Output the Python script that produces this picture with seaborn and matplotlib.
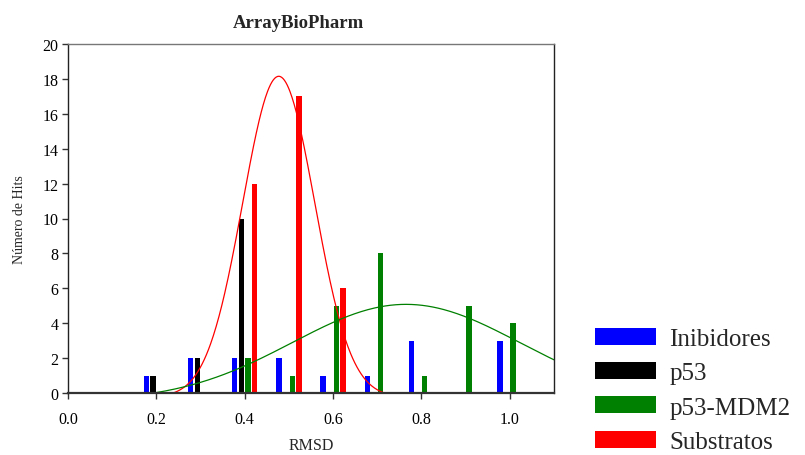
import numpy as np
import pandas as pd
import matplotlib
matplotlib.use('Agg')
import matplotlib.pyplot as plt
import seaborn as sns
from matplotlib.patches import Patch

#######################################################################################################################
# DATA #
#######################################################################################################################

Groups = ['Inibidores', 'p53', 'p53-MDM2', 'Substratos']
Colors = ['#0000FF', '#000000', '#008000', '#FF0000']

RMSD_Inibidores = [0.2, 0.3, 0.4, 0.5, 0.6, 0.7, 0.8, 1.0]
Hits_Inibidores = [1, 2, 2, 2, 1, 1, 3, 3]

RMSD_p53 = [0.2, 0.3, 0.4]
Hits_p53 = [1, 2, 10]

RMSD_p53_MDM2 = [0.4, 0.5, 0.6, 0.7, 0.8, 0.9, 1.0]
Hits_p53_MDM2 = [2, 1, 5, 8, 1, 5, 4]

RMSD_Substratos = [0.4, 0.5, 0.6]
Hits_Substratos = [12, 17, 6]

# fitted gaussian curves: offset, amplitude, centre, width, x range
Fit_Substratos = dict(Y0 = -0.25, A = 18.4, X0 = 0.477, Sigma = 0.0815, X_Range = (0.24, 0.716))
Fit_p53_MDM2 = dict(Y0 = -0.47, A = 5.55, X0 = 0.765, Sigma = 0.257, X_Range = (0.2, 1.1))

X_Ticks = [0.0, 0.2, 0.4, 0.6, 0.8, 1.0]
Y_Ticks = list(range(0, 21, 2))

#######################################################################################################################
# BUILD #
#######################################################################################################################

Frames = []
for Name, X, Y in zip(Groups, [RMSD_Inibidores, RMSD_p53, RMSD_p53_MDM2, RMSD_Substratos],
                      [Hits_Inibidores, Hits_p53, Hits_p53_MDM2, Hits_Substratos]):
    Frames.append(pd.DataFrame({'RMSD': X, 'Hits': Y, 'Grupo': Name}))
Data = pd.concat(Frames, ignore_index = True)

def Gaussian_Curve(Fit, N = 300):
    X = np.linspace(Fit['X_Range'][0], Fit['X_Range'][1], N)
    Y = Fit['Y0'] + Fit['A'] * np.exp(-0.5 * ((X - Fit['X0']) / Fit['Sigma']) ** 2)
    return X, Y

sns.set_style('ticks')
plt.rcParams['font.family'] = ['Liberation Serif', 'DejaVu Serif']

Figure = plt.figure(figsize = (8.05, 4.56), dpi = 100)
Axis = Figure.add_axes([68 / 805, 1 - 394 / 456, (554 - 68) / 805, (394 - 45) / 456])

sns.barplot(data = Data, x = 'RMSD', y = 'Hits', hue = 'Grupo', hue_order = Groups, palette = Colors,
            native_scale = True, dodge = True, width = 0.6, gap = 0.2, errorbar = None, legend = False,
            saturation = 1, linewidth = 0, ax = Axis)

X_Red, Y_Red = Gaussian_Curve(Fit_Substratos)
X_Green, Y_Green = Gaussian_Curve(Fit_p53_MDM2)
sns.lineplot(x = X_Red, y = Y_Red, color = '#FF0000', linewidth = 0.9, ax = Axis)
sns.lineplot(x = X_Green, y = Y_Green, color = '#008000', linewidth = 0.9, ax = Axis)

Axis.set_xlim(0, 1.1)
Axis.set_ylim(0, 20)
Axis.set_xticks(X_Ticks)
Axis.set_xticklabels([f'{T:.1f}' for T in X_Ticks])
Axis.set_yticks(Y_Ticks)
Axis.tick_params(axis = 'both', direction = 'out', length = 4, width = 1, color = '#333333', labelsize = 11.5,
                 labelcolor = '#000000')
Axis.tick_params(axis = 'x', pad = 9)
Axis.tick_params(axis = 'y', pad = 3)

for Side in ['top', 'right', 'left']:
    Axis.spines[Side].set_visible(True)
    Axis.spines[Side].set_color('#222222')
    Axis.spines[Side].set_linewidth(1.0)
Axis.spines['top'].set_color('#777777')
Axis.spines['bottom'].set_color('#333333')
Axis.spines['bottom'].set_linewidth(1.6)

Axis.set_xlabel('RMSD', fontsize = 11.5, labelpad = 7)
Axis.set_ylabel('Número de Hits', fontsize = 10, labelpad = 12)
Figure.text(298 / 805, 1 - 24 / 456, 'ArrayBioPharm', fontsize = 13.5, fontweight = 'bold', ha = 'center', va = 'center')

Handles = [Patch(facecolor = C, edgecolor = 'none', label = G) for C, G in zip(Colors, Groups)]
Figure.legend(handles = Handles, loc = 'upper left', bbox_to_anchor = (582 / 805, 1 - 316 / 456), frameon = False,
              fontsize = 18, handlelength = 2.45, handleheight = 0.68, handletextpad = 0.55, labelspacing = 0.48,
              borderpad = 0)

Figure.savefig('out.png', dpi = 100)
